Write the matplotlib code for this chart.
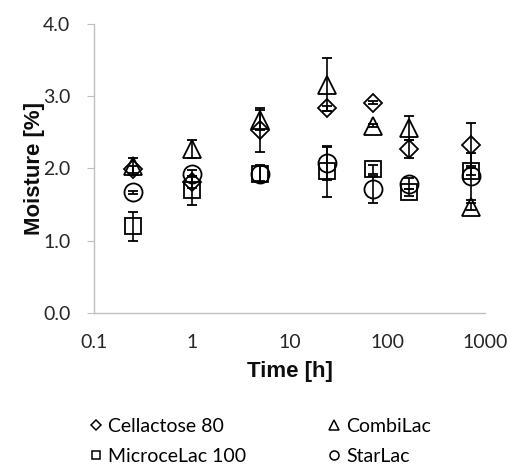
import numpy as np
import matplotlib
matplotlib.use('Agg')
import matplotlib.pyplot as plt
from matplotlib.lines import Line2D

plt.rcParams.update({
    'font.family': ['Lato', 'DejaVu Sans'],
    'font.size': 14,
})

time_h = [0.25, 1, 5, 24, 72, 168, 720]

cellactose = [1.99, 1.81, 2.53, 2.83, 2.91, 2.27, 2.33]
cellactose_err = [0.05, 0.08, 0.30, 0.04, 0.02, 0.13, 0.30]

combilac = [2.03, 2.27, 2.67, 3.16, 2.59, 2.56, 1.47]
combilac_err = [0.12, 0.12, 0.14, 0.37, 0.02, 0.17, 0.05]

microcelac = [1.20, 1.70, 1.93, 1.96, 1.99, 1.67, 1.96]
microcelac_err = [0.20, 0.20, 0.12, 0.35, 0.06, 0.05, 0.05]

starlac = [1.67, 1.93, 1.93, 2.07, 1.71, 1.79, 1.89]
starlac_err = [0.02, 0.05, 0.10, 0.23, 0.19, 0.08, 0.33]

series = [
    ('Cellactose 80', cellactose, cellactose_err, 'D', 9.5),
    ('CombiLac', combilac, combilac_err, '^', 13),
    ('MicroceLac 100', microcelac, microcelac_err, 's', 12),
    ('StarLac', starlac, starlac_err, 'o', 13),
]

fig = plt.figure(figsize=(5.08, 4.68), dpi=100)
ax = fig.add_axes([0.185, 0.331, 0.77, 0.618])

for name, vals, err, mk, ms in series:
    ax.errorbar(time_h, vals, yerr=err, fmt=mk, ms=ms, mfc='none', mec='black',
                mew=1.3, ecolor='black', elinewidth=1.2, capsize=3.5, capthick=1.2,
                zorder=3, clip_on=False)

ax.set_xscale('log')
ax.set_xlim(0.1, 1000)
ax.set_ylim(0, 4)
ax.set_yticks([0, 1, 2, 3, 4])
ax.set_yticklabels(['{:.1f}'.format(v) for v in [0, 1, 2, 3, 4]])
ax.set_xticks([0.1, 1, 10, 100, 1000])
ax.set_xticklabels(['0.1', '1', '10', '100', '1000'])
ax.minorticks_off()

for s in ['top', 'right']:
    ax.spines[s].set_visible(False)
for s in ['left', 'bottom']:
    ax.spines[s].set_color('#bfbfbf')
    ax.spines[s].set_linewidth(1.0)
ax.tick_params(axis='y', length=5, color='#bfbfbf', labelcolor='#262626', pad=12)
ax.tick_params(axis='x', length=0, labelcolor='#262626', pad=15)

ax.set_xlabel('Time [h]', fontweight='bold', fontsize=16, color='#0d0d0d',
              family='Liberation Sans', labelpad=7)
ax.set_ylabel('Moisture [%]', fontweight='bold', fontsize=16, color='#0d0d0d',
              family='Liberation Sans', labelpad=-1.5)

# legend goes row-wise in the reference, matplotlib fills column-wise
order = [0, 2, 1, 3]
handles = [Line2D([], [], linestyle='none', marker=series[i][3], ms=series[i][4] * 0.5,
                  mfc='none', mec='black', mew=1.1) for i in order]
labels = [series[i][0] for i in order]
fig.legend(handles, labels, ncol=2, loc='center', bbox_to_anchor=(0.513, 0.057),
           frameon=False, fontsize=14, handlelength=0.6, handletextpad=0.3,
           columnspacing=4.25, labelspacing=0.65, borderpad=0)

fig.savefig('out.png', dpi=100)
